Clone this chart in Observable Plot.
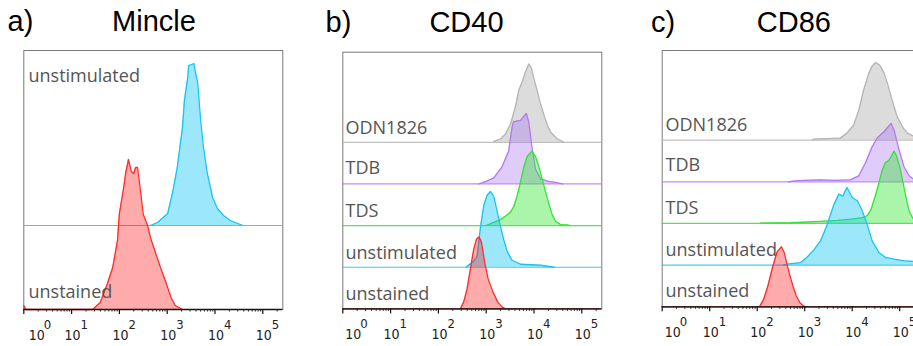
<!DOCTYPE html>
<html><head><meta charset="utf-8">
<script src="https://cdn.jsdelivr.net/npm/d3@7"></script>
<script src="https://cdn.jsdelivr.net/npm/@observablehq/plot@0.6"></script>
<style>
html,body{margin:0;padding:0;background:#fff;}
#wrap{position:relative;width:913px;height:346px;overflow:hidden;background:#fff;}
#wrap svg{position:absolute;top:0;}
</style></head><body><div id="wrap"></div>
<script>
// ---------- data (x = log10 fluorescence, y = relative count) ----------
const decades = [0, 1, 2, 3, 4, 5];
const minorSteps = [2, 3, 4, 5, 6, 7, 8, 9];
const tickBase = "10";

// a) Mincle
const aUnstained = [[0,4],[0.04,0],[1.44,0],[1.60,7],[1.75,26],[1.86,42],[1.96,69],[2.00,96],[2.09,122],[2.13,136],[2.19,150],[2.25,138],[2.30,136],[2.34,142],[2.38,142],[2.44,119],[2.50,95],[2.59,84],[2.65,72],[2.76,56],[2.86,42],[2.96,29],[3.08,12],[3.17,4],[3.32,0]];
const aUnstimulated = [[2.65,0],[2.80,3],[3.01,12],[3.11,32],[3.21,58],[3.32,98],[3.36,125],[3.43,148],[3.45,160],[3.51,161],[3.56,162],[3.57,158],[3.64,142],[3.70,105],[3.76,78],[3.84,52],[3.95,28],[4.05,17],[4.18,10],[4.32,5],[4.53,1],[4.59,0]];

// b) CD40
const bUnstained = [[2.46,0],[2.53,7],[2.60,20],[2.67,40],[2.74,60],[2.80,70],[2.85,72],[2.90,67],[2.97,46],[3.04,30],[3.14,17],[3.24,7],[3.34,1.5],[3.41,0]];
const bUnstimulated = [[2.58,0],[2.67,3.5],[2.74,6],[2.81,11],[2.88,40],[2.95,62],[3.02,72],[3.09,75.7],[3.16,70.6],[3.23,55.6],[3.30,40.6],[3.37,27],[3.44,15.6],[3.54,7],[3.72,3],[4.14,2],[4.35,0.5],[4.42,0]];
const bTDS = [[3.00,0],[3.16,3.3],[3.30,6],[3.40,9.3],[3.51,13.5],[3.58,19.3],[3.65,30],[3.72,44],[3.79,59],[3.86,69.3],[3.96,74.3],[4.03,69.3],[4.10,59.3],[4.17,47],[4.24,34],[4.31,22],[4.38,11],[4.45,4.3],[4.56,1],[4.70,0.7],[4.76,0]];
const bTDB = [[2.85,0],[3.00,2.5],[3.16,6],[3.33,17],[3.47,33],[3.54,56],[3.57,62],[3.65,63],[3.72,63.5],[3.79,67.7],[3.84,70.5],[3.89,62],[3.96,36],[4.03,15],[4.14,5],[4.30,2.5],[4.45,1.5],[4.60,0]];
const bODN1826 = [[3.16,1],[3.30,3.3],[3.40,8],[3.51,18.3],[3.61,35],[3.68,51.7],[3.75,60],[3.82,70],[3.89,78.3],[3.94,75],[4.00,63.3],[4.07,51],[4.14,38],[4.21,27],[4.28,17],[4.35,10],[4.49,3.3],[4.59,1],[4.62,0]];

// c) CD86
const cUnstained = [[2.05,0],[2.14,8],[2.22,20],[2.32,39],[2.42,55],[2.51,60],[2.57,54],[2.63,42],[2.69,31],[2.75,21],[2.82,11],[2.90,4],[2.97,1],[3.02,0]];
const cUnstimulated = [[2.55,0],[2.63,1],[2.91,2.5],[3.05,8],[3.19,15],[3.33,24],[3.47,40],[3.61,60],[3.72,71],[3.80,69],[3.89,77.7],[4.00,67.7],[4.11,64.3],[4.21,54.3],[4.32,40],[4.42,24.3],[4.56,12.7],[4.70,7.7],[4.88,6],[5.09,4.3],[5.29,3.7],[5.45,3]];
const cTDS = [[2.07,0.3],[2.70,0.7],[3.33,2],[3.70,3],[4.03,4.5],[4.24,6],[4.32,8],[4.39,13],[4.49,28],[4.56,40],[4.63,53],[4.70,61],[4.77,63],[4.82,67],[4.88,72.3],[4.93,68],[5.00,57],[5.09,36],[5.15,22],[5.20,12],[5.29,4],[5.45,1]];
const cTDB = [[2.66,0],[2.80,1],[3.00,1.5],[3.33,2],[3.65,1.5],[3.96,2],[4.14,6],[4.28,19],[4.42,35],[4.53,44],[4.67,50],[4.74,54],[4.82,58.4],[4.88,52],[4.98,33],[5.09,15],[5.20,6],[5.32,1.5],[5.45,0]];
const cODN1826 = [[3.16,0],[3.20,1],[3.50,1.5],[3.75,2],[3.89,7],[4.03,15],[4.14,30],[4.24,50],[4.35,67],[4.42,74],[4.49,77.6],[4.58,75],[4.67,67],[4.74,57],[4.84,40],[4.95,23],[5.07,12.5],[5.16,7],[5.29,4],[5.45,1.5]];

const seriesNames = ["unstained", "unstimulated", "TDS", "TDB", "ODN1826"];
const panelLetters = ["a)", "b)", "c)"];
const panelTitles = ["Mincle", "CD40", "CD86"];

// ---------- styling ----------
const colors = {
  unstained:   {stroke: "#ff2b2b", fill: "#ff0000", fo: 0.33},
  unstimulated:{stroke: "#17c4f2", fill: "#16c6f5", fo: 0.42},
  TDS:         {stroke: "#35e235", fill: "#2ee62e", fo: 0.40},
  TDB:         {stroke: "#b27af0", fill: "#a56ef0", fo: 0.35},
  ODN1826:     {stroke: "#b5b5b5", fill: "#9a9a9a", fo: 0.35}
};

const panels = [
  {letter: panelLetters[0], title: panelTitles[0], left: 0, width: 300, ml: 23.3, frameW: 259, top: 50, bottom: 309,
   step: 84, letterDx: -16.3, titleDx: 0.7, titleDy: -20, labelDx: 4.7, firstTickDx: 5,
   series: [["unstained", aUnstained, 12], ["unstimulated", aUnstimulated, 143.3]]},
  {letter: panelLetters[1], title: panelTitles[1], left: 300, width: 320, ml: 42.3, frameW: 259, top: 51.7, bottom: 308.4,
   step: 41.65, letterDx: -17.3, titleDx: -5.8, titleDy: -20, labelDx: 2.7, firstTickDx: 2.5,
   series: [["unstained", bUnstained, 8.5], ["unstimulated", bUnstimulated, 8.5], ["TDS", bTDS, 8.5], ["TDB", bTDB, 9.5], ["ODN1826", bODN1826, 8.5]]},
  {letter: panelLetters[2], title: panelTitles[2], left: 620, width: 300, ml: 41.7, frameW: 257.4, top: 50, bottom: 306.3,
   step: 41.67, letterDx: -11.3, titleDx: 3, titleDy: -18.5, labelDx: 3.3, firstTickDx: 2.5,
   series: [["unstained", cUnstained, 9.5], ["unstimulated", cUnstimulated, 9.5], ["TDS", cTDS, 9.5], ["TDB", cTDB, 11], ["ODN1826", cODN1826, 9.5]]}
];

const majorTicks = decades.map(k => 10 ** k);
const minorTicks = decades.flatMap(k => minorSteps.map(m => m * 10 ** k)).filter(v => v < 262144);

function makePanel(p) {
  const H = p.bottom - p.top;
  const rows = p.series.map(([name, data, lift], i) => ({name, data, lift, off: i * p.step, ...colors[name]}));
  const marks = [Plot.frame({stroke: "#7a7a7a"})];
  for (const r of [...rows].reverse()) {
    const pts = r.data.map(([lx, c]) => ({x: 10 ** lx, y1: r.off, y2: r.off + c}));
    marks.push(Plot.ruleY([r.off], {stroke: r.stroke, strokeOpacity: 0.85, strokeWidth: 1.2}));
    marks.push(Plot.areaY(pts, {x: "x", y1: "y1", y2: "y2", fill: r.fill, fillOpacity: r.fo}));
    marks.push(Plot.lineY(pts, {x: "x", y: "y2", stroke: r.stroke, strokeWidth: 1.3}));
  }
  marks.push(Plot.text(rows, {frameAnchor: "left", y: d => d.off + d.lift, text: "name", dx: p.labelDx,
    textAnchor: "start", lineAnchor: "bottom", fill: "#555", fontSize: 18, fontFamily: "Open Sans"}));
  // bottom axis line + ticks
  marks.push(Plot.ruleY([0], {stroke: "#111", strokeWidth: 1.3}));
  marks.push(Plot.ruleX(majorTicks, {x: d => d, y1: 0, y2: -5, stroke: "#111", strokeWidth: 1.2}));
  marks.push(Plot.ruleX(minorTicks, {x: d => d, y1: 0, y2: -2.5, stroke: "#222", strokeWidth: 1}));
  const lab = {frameAnchor: "bottom", lineAnchor: "bottom", fill: "#222", fontFamily: "Liberation Sans Narrow, DejaVu Sans Condensed, sans-serif"};
  const expText = d => String(Math.round(Math.log10(d)));
  marks.push(Plot.text(majorTicks.slice(0, 1), {...lab, x: d => d, text: () => tickBase, dx: p.firstTickDx, dy: 30.5, textAnchor: "start", fontSize: 14}));
  marks.push(Plot.text(majorTicks.slice(0, 1), {...lab, x: d => d, text: expText, dx: p.firstTickDx + 15, dy: 19.5, textAnchor: "start", fontSize: 13}));
  marks.push(Plot.text(majorTicks.slice(1), {...lab, x: d => d, text: () => tickBase, dx: 1, dy: 30.5, textAnchor: "middle", fontSize: 14}));
  marks.push(Plot.text(majorTicks.slice(1), {...lab, x: d => d, text: expText, dx: 9, dy: 19.5, textAnchor: "start", fontSize: 13}));
  // titles
  const tt = {frameAnchor: "top", lineAnchor: "bottom", fill: "#000", fontSize: 29, fontFamily: "Liberation Sans, Arial, sans-serif"};
  marks.push(Plot.text([p.title], {...tt, text: d => d, dx: p.titleDx, dy: p.titleDy, textAnchor: "middle"}));
  marks.push(Plot.text([p.letter], {...tt, frameAnchor: "top-left", text: d => d, dx: p.letterDx, dy: p.titleDy, textAnchor: "start"}));

  const svg = Plot.plot({
    width: p.width, height: 346,
    marginLeft: p.ml, marginRight: p.width - p.ml - p.frameW,
    marginTop: p.top, marginBottom: 346 - p.bottom,
    x: {type: "log", domain: [1, 262144], axis: null},
    y: {domain: [0, H], axis: null},
    style: {background: "transparent", overflow: "visible", maxWidth: "none"},
    marks
  });
  svg.style.left = p.left + "px";
  return svg;
}

const wrap = document.getElementById("wrap");
for (const p of panels) wrap.appendChild(makePanel(p));
</script>
</body></html>
